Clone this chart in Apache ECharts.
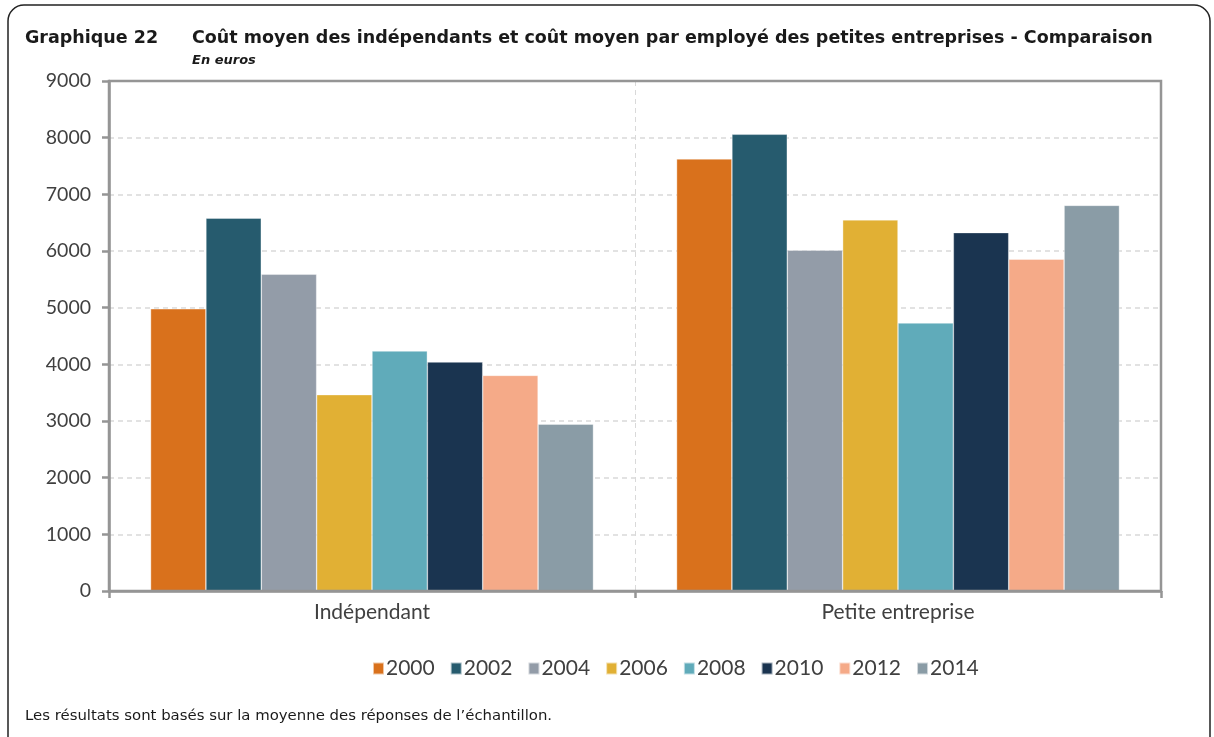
<!DOCTYPE html>
<html>
<head>
<meta charset="utf-8">
<script src="https://cdn.jsdelivr.net/npm/echarts@6/dist/echarts.min.js"></script>
<style>
  html, body { margin: 0; padding: 0; background: #fff; }
  #chart { width: 1214px; height: 737px; }
</style>
</head>
<body>
<div id="chart"></div>
<script>
// Catégories et valeurs (euros)
const categories = ['Indépendant', 'Petite entreprise'];
const years = ['2000', '2002', '2004', '2006', '2008', '2010', '2012', '2014'];
const v2000 = [4980, 7625];
const v2002 = [6580, 8060];
const v2004 = [5590, 6015];
const v2006 = [3465, 6550];
const v2008 = [4235, 4730];
const v2010 = [4040, 6325];
const v2012 = [3805, 5855];
const v2014 = [2945, 6805];
const yTicks = { min: 0, max: 9000, interval: 1000 };

const seriesValues = [v2000, v2002, v2004, v2006, v2008, v2010, v2012, v2014];
const colors = ['#D9711C', '#265B6E', '#939CA8', '#E1B034', '#60ABBA', '#1A3450', '#F5AA88', '#8A9CA6'];

const chart = echarts.init(document.getElementById('chart'), null, { renderer: 'canvas' });

const labelFont = 'Lato, "Open Sans", sans-serif';
const headFont = '"DejaVu Sans", Verdana, sans-serif';
const axisGrey = '#959595';

chart.setOption({
  animation: false,
  backgroundColor: '#ffffff',
  color: colors,
  title: [
    {
      text: 'Graphique 22',
      left: 25, top: 29, padding: 0,
      textStyle: { fontFamily: headFont, fontWeight: 'bold', fontSize: 17.5, color: '#1a1a1a' }
    },
    {
      text: 'Coût moyen des indépendants et coût moyen par employé des petites entreprises - Comparaison',
      left: 192, top: 29, padding: 0,
      textStyle: { fontFamily: headFont, fontWeight: 'bold', fontSize: 17.5, color: '#1a1a1a' }
    },
    {
      text: 'En euros',
      left: 192, top: 54, padding: 0,
      textStyle: { fontFamily: headFont, fontWeight: 'bold', fontStyle: 'italic', fontSize: 13, color: '#1a1a1a' }
    },
    {
      text: 'Les résultats sont basés sur la moyenne des réponses de l\u2019échantillon.',
      left: 25, top: 709, padding: 0,
      textStyle: { fontFamily: headFont, fontWeight: 'normal', fontSize: 14.9, color: '#1a1a1a' }
    }
  ],
  graphic: [
    {
      type: 'rect',
      shape: { x: 8, y: 5, width: 1202, height: 760, r: 16 },
      style: { fill: 'none', stroke: '#222', lineWidth: 1.5 },
      silent: true
    }
  ],
  legend: {
    data: years,
    top: 653,
    left: 367,
    icon: 'rect',
    itemWidth: 11,
    itemHeight: 12,
    itemGap: 15,
    textStyle: { fontFamily: labelFont, fontSize: 21, color: '#404040', padding: [0, 0, 0, -3] }
  },
  grid: {
    left: 109, right: 53, top: 81, bottom: 146,
    show: true,
    z: 3,
    borderColor: axisGrey,
    borderWidth: 2.5
  },
  xAxis: {
    type: 'category',
    data: categories,
    axisLine: { lineStyle: { color: axisGrey, width: 2.5 } },
    axisTick: { show: true, length: 7, lineStyle: { color: axisGrey, width: 2.5 } },
    axisLabel: { fontFamily: labelFont, fontSize: 21, color: '#404040', margin: 11 },
    splitLine: { show: true, lineStyle: { color: '#d9d9d9', type: [5, 4], width: 1 } }
  },
  yAxis: {
    type: 'value',
    min: yTicks.min, max: yTicks.max, interval: yTicks.interval,
    axisLine: { show: true, lineStyle: { color: axisGrey, width: 2.5 } },
    axisTick: { show: true, length: 7, lineStyle: { color: axisGrey, width: 2.5 } },
    axisLabel: {
      fontFamily: labelFont, fontSize: 19.5, color: '#404040', margin: 18,
      formatter: (v) => String(v)
    },
    splitLine: { show: true, lineStyle: { color: '#d9d9d9', type: [5, 4], width: 1.5 } }
  },
  series: years.map((y, i) => ({
    name: y,
    type: 'bar',
    data: seriesValues[i],
    barGap: '0%',
    barCategoryGap: '15.8%',
    itemStyle: { color: colors[i], borderColor: 'rgba(255,255,255,0.6)', borderWidth: 0.6 }
  }))
});
</script>
</body>
</html>
